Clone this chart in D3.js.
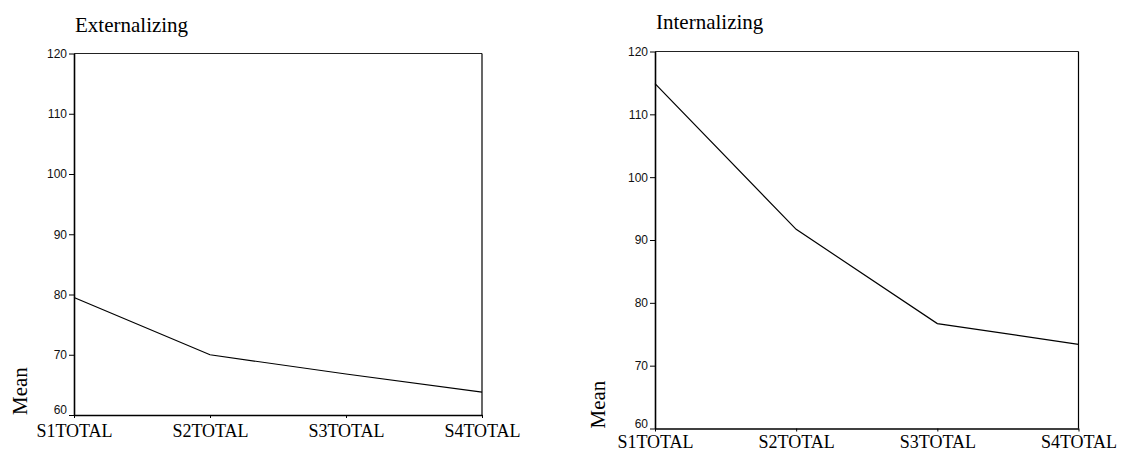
<!DOCTYPE html>
<html>
<head>
<meta charset="utf-8">
<script src="https://cdn.jsdelivr.net/npm/d3@7"></script>
<style>
  html, body { margin: 0; padding: 0; background: #fff; }
  svg { display: block; }
</style>
</head>
<body>
<svg id="chart" width="1122" height="455"></svg>
<script>
// Occasions measured
const categories = ["S1TOTAL", "S2TOTAL", "S3TOTAL", "S4TOTAL"];
// Mean scores per occasion
const externalizing = [79.5, 70.0, 66.8, 63.8];
const internalizing = [114.9, 91.7, 76.7, 73.4];
// Y axis ticks
const yTicks = [60, 70, 80, 90, 100, 110, 120];
const yDomain = [60, 120];

const svg = d3.select("#chart");
const serif = "'Liberation Serif', 'Times New Roman', serif";
const sans = "'Liberation Sans', Arial, sans-serif";

const panels = [
  { title: "Externalizing", values: externalizing,
    left: 74, right: 482, top: 53.5, bottom: 415,
    titleY: 32, meanX: 27, labelPad: 6 },
  { title: "Internalizing", values: internalizing,
    left: 655, right: 1078.5, top: 51.5, bottom: 428.5,
    titleY: 29, meanX: 605, labelPad: 4 }
];

panels.forEach(p => {
  const g = svg.append("g");

  const x = d3.scalePoint().domain(categories).range([p.left, p.right]);
  const y = d3.scaleLinear().domain(yDomain).range([p.bottom, p.top]);

  // frame: top and right edges
  g.append("line")
    .attr("x1", p.left).attr("x2", p.right)
    .attr("y1", p.top).attr("y2", p.top)
    .attr("stroke", "#222").attr("stroke-width", 1);
  g.append("line")
    .attr("x1", p.right).attr("x2", p.right)
    .attr("y1", p.top).attr("y2", p.bottom)
    .attr("stroke", "#000").attr("stroke-width", 1.2);

  // y axis
  const yAxis = g.append("g")
    .attr("transform", `translate(${p.left},0)`)
    .call(d3.axisLeft(y).tickValues(yTicks).tickSize(5).tickPadding(2).tickSizeOuter(0));
  yAxis.select(".domain").attr("stroke", "#000").attr("stroke-width", 1.6);
  yAxis.selectAll(".tick line").attr("stroke", "#000").attr("stroke-width", 1);
  yAxis.selectAll(".tick text")
    .attr("font-family", sans).attr("font-size", 12).attr("fill", "#111")
    .attr("dy", d => d === 60 ? "-0.1em" : "0.32em");

  // x axis
  const xAxis = g.append("g")
    .attr("transform", `translate(0,${p.bottom})`)
    .call(d3.axisBottom(x).tickSize(3).tickPadding(p.labelPad).tickSizeOuter(0));
  xAxis.select(".domain").attr("stroke", "#000").attr("stroke-width", 1.6);
  xAxis.selectAll(".tick line").attr("stroke", "#000").attr("stroke-width", 1);
  xAxis.selectAll(".tick text")
    .attr("font-family", serif).attr("font-size", 18).attr("fill", "#000");

  // mean line
  const line = d3.line()
    .x((d, i) => x(categories[i]))
    .y(d => y(d));
  g.append("path")
    .datum(p.values)
    .attr("d", line)
    .attr("fill", "none")
    .attr("stroke", "#000")
    .attr("stroke-width", 1.2);

  // title
  g.append("text")
    .attr("x", p.left + 1).attr("y", p.titleY)
    .attr("font-family", serif).attr("font-size", 21)
    .attr("fill", "#000")
    .text(p.title);

  // y axis name
  g.append("text")
    .attr("transform", `translate(${p.meanX},${p.bottom}) rotate(-90)`)
    .attr("font-family", serif).attr("font-size", 21)
    .attr("fill", "#000")
    .text("Mean");
});
</script>
</body>
</html>
